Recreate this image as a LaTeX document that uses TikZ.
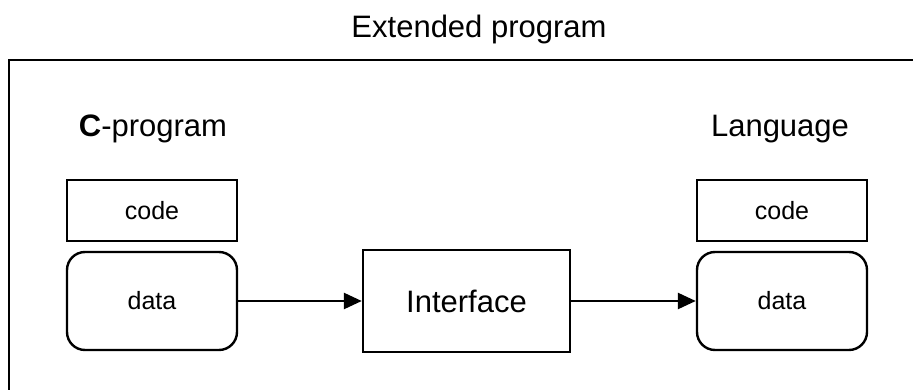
\documentclass[tikz,border=0pt]{standalone}
\usepackage{fontspec}
\setmainfont{Liberation Sans}
\usetikzlibrary{arrows.meta}
\begin{document}
\begin{tikzpicture}[x=1pt, y=-1pt, line width=2.4pt,
  heading/.style={anchor=base, inner sep=0pt, font=\fontsize{31}{37}\selectfont},
  part/.style={draw, rectangle, minimum width=170pt, inner sep=0pt,
               font=\fontsize{25}{30}\selectfont},
  codebox/.style={part, minimum height=61pt},
  databox/.style={part, minimum height=98pt, rounded corners=18pt},
  ifacebox/.style={draw, rectangle, minimum width=207pt, minimum height=102pt,
                   inner sep=0pt, font=\fontsize{31}{37}\selectfont},
  flow/.style={line width=2.6pt, -{Triangle[length=18pt,width=16pt]}}
]
\useasboundingbox (0,0) rectangle (913,390);

% outer frame of the extended program (open to the right and bottom)
\coordinate (fbl) at (9,390);
\coordinate (ftl) at (9,60);
\coordinate (ftr) at (913,60);
\draw[line width=2.6pt] (fbl) -- (ftl) -- (ftr);

\node[heading] (title) at (479,38) {Extended program};

% C program side
\node[heading] (cprog) at (153,137) {\textbf{C}-program};
\node[codebox] (ccode) at (152,210.5) {code};
\node[databox] (cdata) at (152,301) {data};

% interface in the middle
\node[ifacebox] (iface) at (466.5,301) {Interface};

% language side
\node[heading] (lang) at (780,137) {Language};
\node[codebox] (lcode) at (782,210.5) {code};
\node[databox] (ldata) at (782,301) {data};

% data flow
\draw[flow] (cdata.east) -- (iface.west);
\draw[flow] (iface.east) -- (ldata.west);
\end{tikzpicture}
\end{document}
